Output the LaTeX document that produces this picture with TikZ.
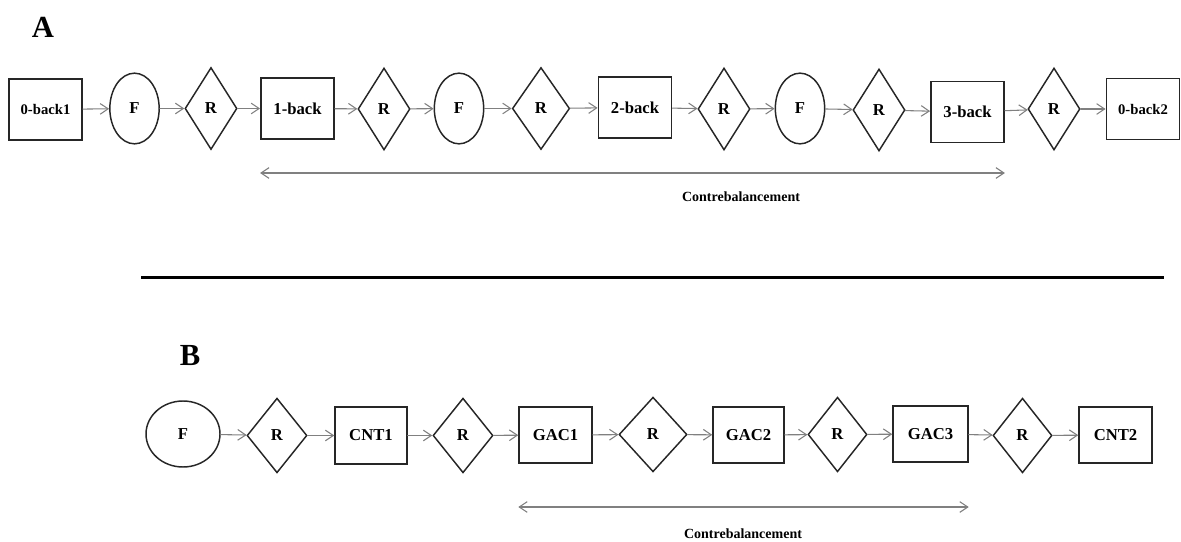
\documentclass[tikz,border=0pt]{standalone}
\usepackage{fontspec}
\setmainfont{Liberation Serif}
\usetikzlibrary{shapes.geometric,arrows.meta}
\begin{document}
\begin{tikzpicture}[x=0.75pt, y=-0.75pt, line cap=round,
    every node/.style={font=\bfseries\fontsize{12.5}{14}\selectfont, inner sep=0pt},
    blk/.style={draw=black!85, line width=1.1pt, minimum width=55pt, minimum height=45.75pt},
    fixa/.style={draw=black!85, line width=1.1pt, ellipse, minimum width=37pt, minimum height=53pt},
    rep/.style={draw=black!85, line width=1.1pt, diamond, minimum width=39pt, minimum height=61.5pt},
    flow/.style={draw=black!50, line width=0.8pt, -{Straight Barb[length=6pt,width=8pt]}},
    span/.style={draw=black!50, line width=0.8pt, {Straight Barb[length=6pt,width=8pt]}-{Straight Barb[length=6pt,width=8pt]}}]
    \useasboundingbox (0,0) rectangle (1181,542);
    %\draw[help lines] (0,0) grid (1181,542);
    \node (lblA) at (43,27) {\fontsize{23}{26}\selectfont A};
    \node[blk, font=\bfseries\fontsize{11}{13}\selectfont] (zero1) at (45.5,109.5) {0-back1};
    \node[fixa] (fA1) at (134.5,108.5) {F};
    \node[rep] (rA1) at (211,108.5) {R};
    \node[blk] (back1) at (297.5,108.5) {1-back};
    \node[rep] (rA2) at (384,109) {R};
    \node[fixa] (fA2) at (459,108.5) {F};
    \node[rep, minimum width=43pt] (rA3) at (541,108.5) {R};
    \node[blk] (back2) at (635,107.5) {2-back};
    \node[rep] (rA4) at (724,109) {R};
    \node[fixa] (fA3) at (800,108.5) {F};
    \node[rep] (rA5) at (879,110) {R};
    \node[blk] (back3) at (967.5,112) {3-back};
    \node[rep] (rA6) at (1054,109) {R};
    \node[blk, font=\bfseries\fontsize{11}{13}\selectfont] (zero2) at (1143,109) {0-back2};
    \draw[flow] (zero1) -- (fA1); \draw[flow] (fA1) -- (rA1); \draw[flow] (rA1) -- (back1);
    \draw[flow] (back1) -- (rA2); \draw[flow] (rA2) -- (fA2); \draw[flow] (fA2) -- (rA3);
    \draw[flow] (rA3) -- (back2); \draw[flow] (back2) -- (rA4); \draw[flow] (rA4) -- (fA3);
    \draw[flow] (fA3) -- (rA5); \draw[flow] (rA5) -- (back3); \draw[flow] (back3) -- (rA6);
    \draw[flow] (rA6) -- (zero2);
    \coordinate (spanA) at (0,173);
    \draw[span] (back1.west |- spanA) -- (back3.east |- spanA);
    \node[font=\bfseries\fontsize{10.5}{12}\selectfont] (cbA) at (741,197) {Contrebalancement};
    \coordinate (sepL) at (141,277);
    \coordinate (sepR) at (1164,277);
    \draw[line width=2.25pt, line cap=butt] (sepL) -- (sepR);
    \node (lblB) at (190,356) {\fontsize{23}{26}\selectfont B};
    \node[fixa, minimum width=55.5pt, minimum height=49.5pt] (fB) at (183,434) {F};
    \node[rep, minimum width=45pt, minimum height=56pt] (rB1) at (277,435.5) {R};
    \node[blk, minimum width=54pt, minimum height=42.5pt] (cnt1) at (371,435.5) {CNT1};
    \node[rep, minimum width=45pt, minimum height=56pt] (rB2) at (463,435.5) {R};
    \node[blk, minimum width=54.75pt, minimum height=42pt] (gac1) at (555.5,435) {GAC1};
    \node[rep, minimum width=51pt, minimum height=56pt] (rB3) at (653,434.5) {R};
    \node[blk, minimum width=53.25pt, minimum height=42pt] (gac2) at (748.5,435) {GAC2};
    \node[rep, minimum width=44.25pt, minimum height=56pt] (rB4) at (837.5,434.5) {R};
    \node[blk, minimum width=56.25pt, minimum height=42pt] (gac3) at (930.5,434) {GAC3};
    \node[rep, minimum width=44.25pt, minimum height=56pt] (rB5) at (1022.5,435.5) {R};
    \node[blk, minimum width=54.75pt, minimum height=42pt] (cnt2) at (1115.5,435) {CNT2};
    \draw[flow] (fB) -- (rB1); \draw[flow] (rB1) -- (cnt1); \draw[flow] (cnt1) -- (rB2);
    \draw[flow] (rB2) -- (gac1); \draw[flow] (gac1) -- (rB3); \draw[flow] (rB3) -- (gac2);
    \draw[flow] (gac2) -- (rB4); \draw[flow] (rB4) -- (gac3); \draw[flow] (gac3) -- (rB5);
    \draw[flow] (rB5) -- (cnt2);
    \coordinate (spanB) at (0,507);
    \draw[span] (gac1.west |- spanB) -- (gac3.east |- spanB);
    \node[font=\bfseries\fontsize{10.5}{12}\selectfont] (cbB) at (743,534) {Contrebalancement};
\end{tikzpicture}
\end{document}
